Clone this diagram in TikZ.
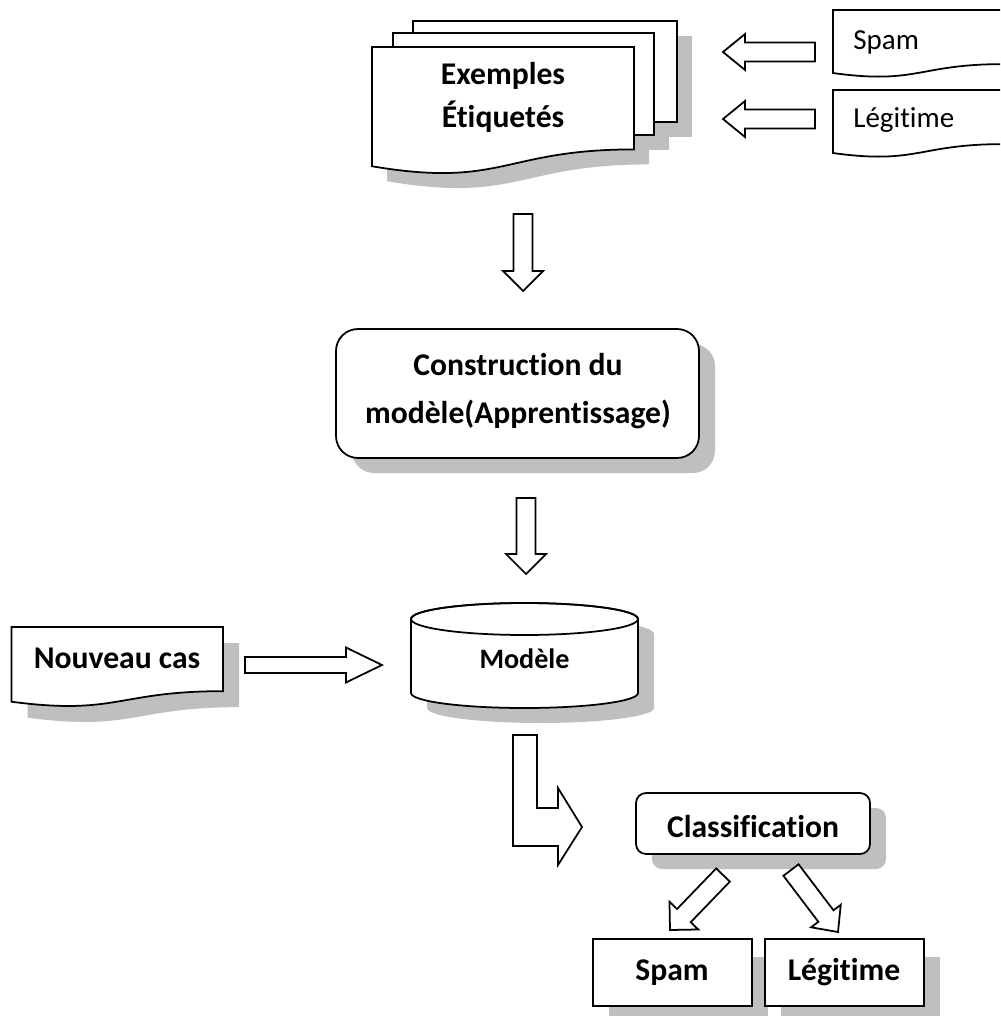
\documentclass[tikz,border=0pt]{standalone}
\usepackage{fontspec}
\setmainfont{Carlito}[Ligatures=CommonOff]
\usetikzlibrary{calc}
\definecolor{shadowgray}{RGB}{191,191,191}
% one unit of the picture grid, as a length
\newcommand\pxu{0.569055pt}
% document sheet with a wavy lower edge: style, left, top, width, height
\newcommand\docsheet[5]{%
  \path[#1] (#2,#3) -- ({#2+#4},#3) -- ({#2+#4},{#3+0.802*#5})
    .. controls ({#2+0.5*#4},{#3+0.802*#5}) and ({#2+0.5*#4},{#3+1.107*#5}) .. (#2,{#3+0.934*#5}) -- cycle;}
% hollow block arrow from a tail coordinate to a tip coordinate:
% tail, tip, shaft half-width, head half-width, head length
\newcommand\blockarrow[5]{%
  \coordinate (headbase) at ($(#2)!{#5*\pxu}!(#1)$);
  \draw[outline]
    ($(#1)!{#3*\pxu}!90:(#2)$) -- ($(headbase)!{#3*\pxu}!90:(#2)$) --
    ($(headbase)!{#4*\pxu}!90:(#2)$) -- (#2) --
    ($(headbase)!{#4*\pxu}!-90:(#2)$) -- ($(headbase)!{#3*\pxu}!-90:(#2)$) --
    ($(#1)!{#3*\pxu}!-90:(#2)$) -- cycle;}
% database cylinder outline
\newcommand\cylinder[1]{%
  \path[#1] (411,619) -- (411,693)
    .. controls (411,701.3) and (461.8,708) .. (524.5,708)
    .. controls (587.2,708) and (638,701.3) .. (638,693) -- (638,619)
    .. controls (638,610.2) and (587.2,603) .. (524.5,603)
    .. controls (461.8,603) and (411,610.2) .. (411,619) -- cycle;}
\begin{document}
\begin{tikzpicture}[x=0.02cm,y=-0.02cm,
  outline/.style={draw=black,line width=1pt,fill=white,line join=miter},
  shade/.style={fill=shadowgray,draw=none},
  boldtxt/.style={font=\bfseries\fontsize{18}{24.5}\selectfont,inner sep=0pt,align=center},
  plaintxt/.style={font=\fontsize{16.5}{20}\selectfont,inner sep=0pt}]
\useasboundingbox (0,0) rectangle (1000,1016);
\clip (0,0) rectangle (1000,1016);

% ---- stack of labelled examples ----
\begin{scope}[shift={(15,15)}]
  \path[shade] (413,21) rectangle (677,122);
  \path[shade] (393,33) rectangle (654,135);
  \docsheet{shade}{372}{47}{262}{127.7}
\end{scope}
\path[outline] (413,21) rectangle (677,122);
\path[outline] (393,33) rectangle (654,135);
\docsheet{outline}{372}{47}{262}{127.7}
% multi-line labels are anchored on the baseline of their last line
\node[boldtxt,anchor=base] (exemples) at (503,128) {Exemples\\Étiquetés};

% ---- incoming class labels ----
\docsheet{outline}{833}{10}{170}{67.5}
\docsheet{outline}{833}{90}{170}{67.5}
\node[plaintxt,anchor=base west] (spamIn) at (853,50) {Spam};
\node[plaintxt,anchor=base west] (legitIn) at (853,128) {Légitime};

% ---- model construction ----
\path[shade,rounded corners=12.5pt] (352,344) rectangle (715,473);
\path[outline,rounded corners=12.5pt] (336,329) rectangle (699,458);
\node[boldtxt,anchor=base,font=\bfseries\fontsize{18}{27.3}\selectfont] (construction) at (518,423)
  {Construction du\\modèle(Apprentissage)};

% ---- new case ----
\docsheet{shade}{27.5}{643}{211.5}{80}
\docsheet{outline}{11.5}{627}{211.5}{80}
\node[boldtxt,anchor=base] (nouveau) at (117,668) {Nouveau cas};

% ---- model store ----
\begin{scope}[shift={(16,15)}]
  \cylinder{shade}
\end{scope}
\cylinder{outline}
\draw[line width=1pt] (524.5,619) ellipse [x radius={113.5*\pxu}, y radius={16*\pxu}];
\node[boldtxt,anchor=base,font=\bfseries\fontsize{16}{20}\selectfont] (modele) at (524.5,668) {Modèle};

% ---- classification ----
\path[shade,rounded corners=5.7pt] (652,808) rectangle (886,869);
\path[outline,rounded corners=5.7pt] (636,793) rectangle (870,854);
\node[boldtxt,anchor=base] (classif) at (753,837) {Classification};

% ---- outcomes ----
\path[shade] (609,957) rectangle (768,1024);
\path[shade] (781,957) rectangle (940,1024);
\path[outline] (593,939) rectangle (752,1006);
\path[outline] (765,939) rectangle (924,1006);
\node[boldtxt,anchor=base] (spamOut) at (672,980) {Spam};
\node[boldtxt,anchor=base] (legitOut) at (844,980) {Légitime};

% ---- connectors ----
\coordinate (spamTail) at (815,52);   \coordinate (spamTip) at (723,52);
\coordinate (legitTail) at (815,119); \coordinate (legitTip) at (723,119);
\coordinate (exTail) at (523,214);    \coordinate (exTip) at (523,291);
\coordinate (conTail) at (526,498);   \coordinate (conTip) at (526,574);
\coordinate (newTail) at (245,665);   \coordinate (newTip) at (382,665);
\coordinate (clsTailA) at (723,875);  \coordinate (clsTipA) at (670,930);
\coordinate (clsTailB) at (791,870);  \coordinate (clsTipB) at (838,932);

\blockarrow{spamTail}{spamTip}{9.5}{18}{22}
\blockarrow{legitTail}{legitTip}{9.5}{18}{22}
\blockarrow{exTail}{exTip}{9.5}{20}{20}
\blockarrow{conTail}{conTip}{9.5}{20}{20}
\blockarrow{newTail}{newTip}{8}{17.5}{36}
\blockarrow{clsTailA}{clsTipA}{9.5}{20}{20}
\blockarrow{clsTailB}{clsTipB}{9.5}{18.6}{20}

% bent arrow from the model store to classification
\draw[outline] (513,735) -- (537,735) -- (537,808) -- (558,808) -- (558,788)
  -- (582,827) -- (558,865) -- (558,846) -- (513,846) -- cycle;
\end{tikzpicture}
\end{document}
